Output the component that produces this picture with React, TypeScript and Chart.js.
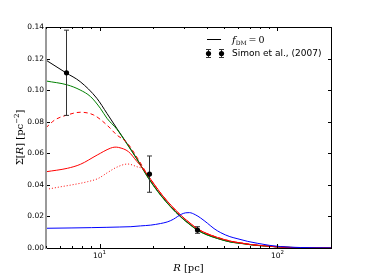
import React, { useEffect, useRef } from "react";
import { Chart, registerables } from "chart.js";

Chart.register(...registerables);

// ---- data (R in pc, Sigma in pc^-2) ----
const blackR = [5, 6.47, 7.78, 9.66, 11, 12.5, 14.24, 16.2, 18.9, 22.1, 25.1, 28.6, 32.6, 35.5, 40.1, 46, 54.7, 62.2, 70.8, 80.6, 104, 135, 200];
const blackS = [0.119, 0.111, 0.1054, 0.0948, 0.0853, 0.0758, 0.0663, 0.0566, 0.0441, 0.0335, 0.0262, 0.0198, 0.0145, 0.0114, 0.0085, 0.0061, 0.0038, 0.003, 0.0021, 0.0015, 0.0006, 0.0002, 0.00003];

const greenR = [5, 6.6, 7.78, 8.9, 10.1, 11, 12.5, 14.24, 16.2, 18.9, 22.1, 25.1, 28.6, 32.6, 35.5, 40.1, 46, 54.7, 62.2, 70.8, 80.6, 104, 135, 200];
const greenS = [0.1058, 0.1033, 0.1001, 0.0959, 0.0885, 0.0822, 0.0753, 0.066, 0.0563, 0.0438, 0.0332, 0.026, 0.0196, 0.0143, 0.0112, 0.0083, 0.006, 0.0037, 0.0029, 0.002, 0.0014, 0.0006, 0.0002, 0.00003];

const dashedR = [5, 5.6, 6.6, 7.8, 9.25, 11, 12.5, 14.24, 16.2, 18.9, 22.1, 25.1, 28.6, 32.6, 35.5, 40.1, 46, 54.7, 62.2, 70.8, 80.6, 104, 135, 200];
const dashedS = [0.0762, 0.0811, 0.0843, 0.086, 0.0843, 0.0779, 0.0716, 0.0668, 0.0576, 0.0452, 0.0346, 0.0272, 0.0207, 0.0153, 0.0121, 0.0091, 0.0067, 0.0043, 0.0032, 0.0022, 0.0016, 0.0006, 0.0002, 0.00003];

const solidR = [5, 6.6, 7.8, 9.7, 11.5, 12.2, 12.8, 14.55, 16.2, 17.4, 18.9, 22.1, 25.1, 28.6, 32.6, 35.5, 40.1, 46, 54.7, 62.2, 70.8, 80.6, 104, 135, 200];
const solidS = [0.0483, 0.0505, 0.053, 0.0589, 0.0632, 0.0639, 0.0637, 0.061, 0.0549, 0.0508, 0.0453, 0.0346, 0.0273, 0.0208, 0.0154, 0.0122, 0.0092, 0.0067, 0.0043, 0.0032, 0.0022, 0.0016, 0.0006, 0.0002, 0.00003];

const dottedR = [5, 6.06, 7.0, 8.56, 9.8, 11.1, 12.5, 14.4, 16.2, 17.5, 18.9, 22.1, 25.1, 28.6, 32.6, 35.5, 40.1, 46, 54.7, 62.2, 70.8, 80.6, 104, 135, 200];
const dottedS = [0.0371, 0.0388, 0.04, 0.042, 0.044, 0.0478, 0.0512, 0.0532, 0.0515, 0.05, 0.0451, 0.0345, 0.0272, 0.0207, 0.0153, 0.0121, 0.0091, 0.0066, 0.0043, 0.0032, 0.0022, 0.0016, 0.0006, 0.0002, 0.00003];

const blueR = [5, 7, 9, 11, 13, 15, 17, 19.4, 22, 24, 26, 27.5, 29, 30.5, 32, 34.5, 37, 40.5, 44, 48, 54, 60, 68, 77, 90, 104, 135, 200];
const blueS = [0.0125, 0.0127, 0.0129, 0.0131, 0.0133, 0.0135, 0.014, 0.0145, 0.0155, 0.0165, 0.0182, 0.02, 0.0215, 0.0223, 0.0224, 0.0211, 0.019, 0.0156, 0.0123, 0.0097, 0.0072, 0.0058, 0.0042, 0.003, 0.0017, 0.0009, 0.0003, 0.00005];

// Simon et al. (2007)
const obsR = [6.47, 18.9, 35.5];
const obsS = [0.111, 0.0468, 0.0114];
const obsE = [0.027, 0.0115, 0.0021];

const yTickValues = [0, 0.02, 0.04, 0.06, 0.08, 0.1, 0.12, 0.14];
const xMajor = [10, 100];
const xMajorBase = ["10", "10"];
const xMajorExp = ["1", "2"];
const xMinor = [5, 6, 7, 8, 9, 20, 30, 40, 50, 60, 70, 80, 90, 200];

const SERIF = "'DejaVu Serif', serif";
const SANS = "'DejaVu Sans', sans-serif";

type Run = { t: string; font: string; dy?: number };

function runsWidth(ctx: CanvasRenderingContext2D, runs: Run[]) {
  let w = 0;
  for (const r of runs) {
    ctx.font = r.font;
    w += ctx.measureText(r.t).width;
  }
  return w;
}
function drawRuns(ctx: CanvasRenderingContext2D, runs: Run[], x: number, y: number) {
  let cx = x;
  for (const r of runs) {
    ctx.font = r.font;
    ctx.fillText(r.t, cx, y + (r.dy || 0));
    cx += ctx.measureText(r.t).width;
  }
}

const decor = {
  id: "decor",
  afterDraw(chart: any) {
    const ctx: CanvasRenderingContext2D = chart.ctx;
    const a = chart.chartArea;
    const xs = chart.scales.x;
    const ys = chart.scales.y;
    ctx.save();
    ctx.strokeStyle = "#000";
    ctx.fillStyle = "#000";
    ctx.lineWidth = 1;
    const line = (x1: number, y1: number, x2: number, y2: number) => {
      ctx.beginPath();
      ctx.moveTo(x1, y1);
      ctx.lineTo(x2, y2);
      ctx.stroke();
    };
    const errMark = (x: number, yc: number, yt: number, yb: number) => {
      ctx.strokeStyle = "#333";
      line(x, yt, x, yb);
      line(x - 2.5, yt, x + 2.5, yt);
      line(x - 2.5, yb, x + 2.5, yb);
      ctx.fillStyle = "#000";
      ctx.beginPath();
      ctx.arc(x, yc, 2.6, 0, Math.PI * 2);
      ctx.fill();
    };
    // error bars
    obsR.forEach((r, i) => {
      const x = Math.round(xs.getPixelForValue(r)) + 0.5;
      errMark(
        x,
        ys.getPixelForValue(obsS[i]),
        ys.getPixelForValue(obsS[i] + obsE[i]),
        ys.getPixelForValue(obsS[i] - obsE[i])
      );
    });

    // frame
    ctx.strokeStyle = "#000";
    const L = a.left, R = a.right, T = a.top, B = a.bottom;
    line(L, T + 0.5, R + 1, T + 0.5);
    line(L, B + 0.5, R + 1, B + 0.5);
    line(R + 0.5, T, R + 0.5, B + 1);
    ctx.fillStyle = "#9a9a9a";
    ctx.fillRect(L - 1, T, 2, B - T + 1);

    // ticks (inward)
    ctx.strokeStyle = "#000";
    yTickValues.forEach((v) => {
      const y = Math.round(ys.getPixelForValue(v)) + 0.5;
      line(L + 1, y, L + 4, y);
      line(R, y, R - 3, y);
    });
    xMajor.forEach((v) => {
      const x = Math.round(xs.getPixelForValue(v)) + 0.5;
      line(x, B, x, B - 4);
      line(x, T, x, T + 4);
    });
    xMinor.forEach((v) => {
      const x = Math.round(xs.getPixelForValue(v)) + 0.5;
      line(x, B, x, B - 2);
      line(x, T, x, T + 2);
    });

    // x tick labels 10^1, 10^2
    ctx.fillStyle = "#000";
    ctx.textBaseline = "alphabetic";
    ctx.textAlign = "left";
    xMajor.forEach((v, i) => {
      const x = xs.getPixelForValue(v);
      const runs: Run[] = [
        { t: xMajorBase[i], font: `7.5px ${SANS}` },
        { t: xMajorExp[i], font: `5.5px ${SANS}`, dy: -4 },
      ];
      const w = runsWidth(ctx, runs);
      drawRuns(ctx, runs, x - w / 2, 257.5);
    });

    // x title: R [pc]
    {
      const runs: Run[] = [
        { t: "R", font: `italic 10px ${SERIF}` },
        { t: " [pc]", font: `10px ${SERIF}` },
      ];
      const w = runsWidth(ctx, runs);
      drawRuns(ctx, runs, (L + R) / 2 - w / 2, 271);
    }

    // y title: Σ[R] [pc^-2]
    {
      ctx.save();
      ctx.translate(23, (T + B) / 2);
      ctx.rotate(-Math.PI / 2);
      const runs: Run[] = [
        { t: "Σ[", font: `10px ${SERIF}` },
        { t: "R", font: `italic 10px ${SERIF}` },
        { t: "] [pc", font: `10px ${SERIF}` },
        { t: "−2", font: `7px ${SERIF}`, dy: -4.5 },
        { t: "]", font: `10px ${SERIF}` },
      ];
      const w = runsWidth(ctx, runs);
      drawRuns(ctx, runs, -w / 2, 0);
      ctx.restore();
    }

    // legend
    ctx.strokeStyle = "#000";
    ctx.lineWidth = 1;
    line(207, 39.5, 221, 39.5);
    drawRuns(
      ctx,
      [
        { t: "f", font: `italic 10px ${SERIF}` },
        { t: "DM", font: `6px ${SERIF}`, dy: 2 },
        { t: "\u2009=\u20090", font: `9.5px ${SERIF}` },
      ],
      232,
      43
    );
    errMark(208.5, 53.5, 49.5, 57.5);
    errMark(221.5, 53.5, 49.5, 57.5);
    ctx.fillStyle = "#000";
    ctx.font = `9px ${SANS}`;
    ctx.textBaseline = "middle";
    ctx.fillText("Simon et al., (2007)", 232, 53.5);

    ctx.restore();
  },
};

export default function App() {
  const ref = useRef<HTMLCanvasElement>(null);
  useEffect(() => {
    const canvas = ref.current;
    if (!canvas) return;
    const mk = (R: number[], S: number[]) => R.map((r, i) => ({ x: r, y: S[i] }));
    const ds = (label: string, R: number[], S: number[], color: string, dash: number[] = []) => ({
      label,
      data: mk(R, S),
      borderColor: color,
      backgroundColor: color,
      borderWidth: 1,
      borderDash: dash,
      pointRadius: 0,
      fill: false,
      cubicInterpolationMode: "monotone" as const,
    });
    const chart = new Chart(canvas, {
      type: "line",
      data: {
        datasets: [
          ds("blue", blueR, blueS, "#0000ff"),
          ds("dotted", dottedR, dottedS, "#ff0000", [1, 2]),
          ds("solid", solidR, solidS, "#ff0000"),
          ds("dashed", dashedR, dashedS, "#ff0000", [4, 3]),
          ds("green", greenR, greenS, "#008000"),
          ds("fDM0", blackR, blackS, "#000000"),
        ],
      },
      options: {
        animation: false,
        responsive: false,
        devicePixelRatio: 1,
        layout: { padding: { left: 0, top: 27, right: 37, bottom: 0 } },
        plugins: { legend: { display: false }, tooltip: { enabled: false } },
        scales: {
          x: {
            type: "logarithmic",
            min: 5,
            max: 200,
            grid: { display: false, drawTicks: false },
            border: { display: false },
            ticks: { display: false },
            afterFit: (s: any) => {
              s.height = 28;
            },
          },
          y: {
            type: "linear",
            min: 0,
            max: 0.14,
            grid: { display: false, drawTicks: false },
            border: { display: false },
            ticks: {
              stepSize: 0.02,
              padding: 2,
              color: "#000",
              font: { size: 7.5, family: "DejaVu Sans" },
              callback: (v: any) => Number(v).toFixed(2),
            },
            afterFit: (s: any) => {
              s.width = 46;
            },
          },
        },
      },
      plugins: [decor],
    });
    return () => chart.destroy();
  }, []);
  return (
    <div style={{ position: "absolute", left: 0, top: 0, width: 368, height: 276, background: "#fff" }}>
      <canvas ref={ref} width={368} height={276} style={{ display: "block", width: 368, height: 276 }} />
    </div>
  );
}
